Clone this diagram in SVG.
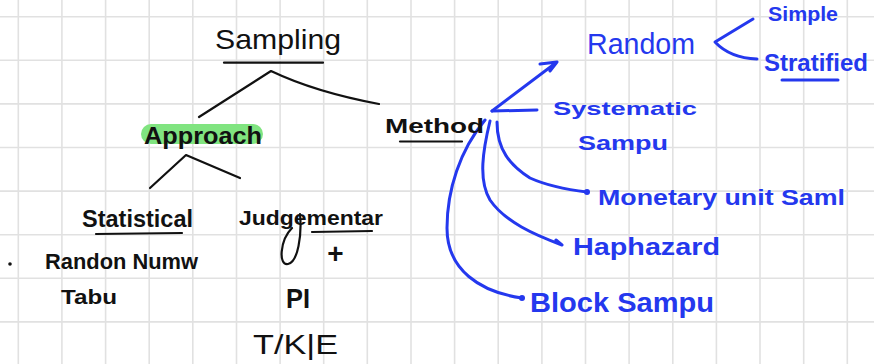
<svg xmlns="http://www.w3.org/2000/svg" width="874" height="364" viewBox="0 0 874 364">
<defs>
<style>
.grid line{stroke:#e1e1e1;stroke-width:1.6}
.k{fill:#111;font-family:"Liberation Sans","Noto Sans",sans-serif;font-weight:bold}
.b{fill:#2438ee;font-family:"Liberation Sans","Noto Sans",sans-serif;font-weight:bold}
.n{font-weight:normal}
.kl{stroke:#111;stroke-width:2.2;fill:none;stroke-linecap:round;stroke-linejoin:round}
.bl{stroke:#2438ee;stroke-width:3;fill:none;stroke-linecap:round;stroke-linejoin:round}
.dot{fill:#2438ee}
</style>
</defs>
<rect width="874" height="364" fill="#ffffff"/>
<g class="grid">
<line x1="18.3" y1="0" x2="18.3" y2="364"/><line x1="61.9" y1="0" x2="61.9" y2="364"/><line x1="105.6" y1="0" x2="105.6" y2="364"/><line x1="149.2" y1="0" x2="149.2" y2="364"/><line x1="192.8" y1="0" x2="192.8" y2="364"/><line x1="236.5" y1="0" x2="236.5" y2="364"/><line x1="280.1" y1="0" x2="280.1" y2="364"/><line x1="323.7" y1="0" x2="323.7" y2="364"/><line x1="367.3" y1="0" x2="367.3" y2="364"/><line x1="411" y1="0" x2="411" y2="364"/><line x1="454.6" y1="0" x2="454.6" y2="364"/><line x1="498.2" y1="0" x2="498.2" y2="364"/><line x1="541.9" y1="0" x2="541.9" y2="364"/><line x1="585.5" y1="0" x2="585.5" y2="364"/><line x1="629.1" y1="0" x2="629.1" y2="364"/><line x1="672.8" y1="0" x2="672.8" y2="364"/><line x1="716.4" y1="0" x2="716.4" y2="364"/><line x1="760" y1="0" x2="760" y2="364"/><line x1="803.7" y1="0" x2="803.7" y2="364"/><line x1="847.3" y1="0" x2="847.3" y2="364"/>
<line x1="0" y1="16.7" x2="874" y2="16.7"/><line x1="0" y1="60.3" x2="874" y2="60.3"/><line x1="0" y1="103.9" x2="874" y2="103.9"/><line x1="0" y1="147.5" x2="874" y2="147.5"/><line x1="0" y1="191.1" x2="874" y2="191.1"/><line x1="0" y1="234.7" x2="874" y2="234.7"/><line x1="0" y1="278.3" x2="874" y2="278.3"/><line x1="0" y1="321.9" x2="874" y2="321.9"/>
</g>
<g id="connectors">
<path class="kl" d="M199,117 L271,71 Q315,92 379,104"/>
<path class="kl" d="M150,188 L186,155 L240,178"/>
<path class="bl" d="M492,111 L557,62 M540,64 L557,62 L550,71"/>
<path class="bl" d="M492,111 L537,110"/>
<path class="bl" d="M753,19 L715,42 Q730,58 757,59"/>
<path class="bl" d="M485,120 C460,150 447,190 447,228 C447,270 480,292 522,298"/>
<circle class="dot" cx="522" cy="298" r="3"/>
<path class="bl" d="M490,121 C483,150 478,180 490,200 C505,222 535,235 562,245 M556,240 L562,245"/>
<path class="bl" d="M497,122 C497,150 510,165 530,178 C550,187 570,190 587,192"/>
<circle class="dot" cx="587" cy="192" r="3"/>
</g>
<g id="sampling">
<text class="k n" x="215" y="49" font-size="28" textLength="126" lengthAdjust="spacingAndGlyphs">Sampling</text>
<path class="kl" d="M224,62.7 L323,62.7"/>
</g>
<g id="approach">
<rect x="141" y="124" width="122" height="20" rx="10" fill="#80e480"/>
<text class="k" x="144" y="144" font-size="24" textLength="118" lengthAdjust="spacingAndGlyphs">Approach</text>
</g>
<g id="method">
<text class="k" x="385" y="133" font-size="20" textLength="99" lengthAdjust="spacingAndGlyphs">Method</text>
<path class="kl" d="M400,141.5 L462,141.5" stroke-width="2.6"/>
</g>
<g id="statistical">
<text class="k" x="82" y="227" font-size="24" textLength="111" lengthAdjust="spacingAndGlyphs">Statistical</text>
<path class="kl" d="M96,234 L182,233"/>
<circle cx="10" cy="264" r="1.8" fill="#111"/>
<text class="k" x="45" y="269" font-size="22" textLength="153" lengthAdjust="spacingAndGlyphs">Randon Numw</text>
<text class="k" x="61" y="304" font-size="20" textLength="56" lengthAdjust="spacingAndGlyphs">Tabu</text>
</g>
<g id="judgemental">
<text class="k" x="239" y="225" font-size="21" textLength="144" lengthAdjust="spacingAndGlyphs">Judgementar</text>
<path class="kl" d="M300,214 C302,235 298,262 288,264 C278,266 280,240 292,228"/>
<path class="kl" d="M312,232 L372,231"/>
<text class="k" x="335.5" y="263" font-size="28" text-anchor="middle">+</text>
<text class="k" x="286" y="308" font-size="28" textLength="24" lengthAdjust="spacingAndGlyphs">PI</text>
<text class="k n" x="253" y="354" font-size="27" textLength="85" lengthAdjust="spacingAndGlyphs">T/K|E</text>
</g>
<g id="random">
<text class="b n" x="587" y="54" font-size="30" textLength="108" lengthAdjust="spacingAndGlyphs">Random</text>
</g>
<g id="simple">
<text class="b" x="768" y="21" font-size="21" textLength="70" lengthAdjust="spacingAndGlyphs">Simple</text>
</g>
<g id="stratified">
<text class="b" x="764" y="71" font-size="23" textLength="104" lengthAdjust="spacingAndGlyphs">Stratified</text>
<path class="bl" d="M782,80 L838,80" stroke-width="2.4"/>
</g>
<g id="systematic">
<text class="b" x="553" y="115" font-size="19" textLength="144" lengthAdjust="spacingAndGlyphs">Systematic</text>
<text class="b" x="578" y="150" font-size="20" textLength="90" lengthAdjust="spacingAndGlyphs">Sampu</text>
</g>
<g id="monetary">
<text class="b" x="598" y="205" font-size="22" textLength="247" lengthAdjust="spacingAndGlyphs">Monetary unit Saml</text>
</g>
<g id="haphazard">
<text class="b" x="573" y="255" font-size="24" textLength="147" lengthAdjust="spacingAndGlyphs">Haphazard</text>
</g>
<g id="block">
<text class="b" x="530" y="312" font-size="28" textLength="184" lengthAdjust="spacingAndGlyphs">Block Sampu</text>
</g>
</svg>
